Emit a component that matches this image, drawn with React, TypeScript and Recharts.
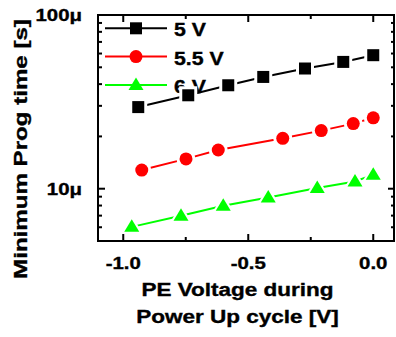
import React from 'react';
import { LineChart, Line, XAxis, YAxis } from 'recharts';

// PE voltage (V) and minimum programming time (µs)
const pe5V = [-0.94, -0.74, -0.58, -0.44, -0.273, -0.12, 0.0];
const time5V = [29.5, 34.5, 39.4, 44, 49.2, 53.7, 58.7];
const pe55V = [-0.926, -0.749, -0.62, -0.362, -0.208, -0.08, 0.0];
const time55V = [12.8, 14.85, 16.7, 19.5, 21.6, 23.7, 25.6];
const pe6V = [-0.966, -0.769, -0.6, -0.42, -0.224, -0.073, 0.0];
const time6V = [6.03, 6.98, 7.97, 8.9, 10.1, 11.0, 12.05];

const seriesNames = ['5 V', '5.5 V', '6 V'];
const seriesColors = ['#000000', '#ff0000', '#00ff00'];
const seriesShapes = ['square', 'circle', 'triangle'];

const xTicks = [-1, -0.75, -0.5, -0.25, 0];
const xMajor = [-1, -0.5, 0];
const yTicksMicro = [6, 7, 8, 9, 10, 20, 30, 40, 50, 60, 70, 80, 90, 100];
const yMajorMicro = [10, 100];

const X_DOMAIN: [number, number] = [-1.101, 0.087];
const Y_DOMAIN: [number, number] = [5e-6, 1e-4];

const toRows = (xs: number[], ys: number[]) =>
  xs.map((x, i) => ({ x, y: ys[i] * 1e-6 }));

const series = [
  toRows(pe5V, time5V),
  toRows(pe55V, time55V),
  toRows(pe6V, time6V),
];

const W = 396;
const H = 337;
const Y_AXIS_W = 98;
const X_AXIS_H = 96;
const MARGIN = { top: 15, right: 1, bottom: 0, left: 0 };
const PLOT_TOP = MARGIN.top;
const PLOT_LEFT = MARGIN.left + Y_AXIS_W;
const PLOT_RIGHT = W - MARGIN.right;
const PLOT_BOTTOM = H - MARGIN.bottom - X_AXIS_H;

const FONT = '"Liberation Sans", Arial, sans-serif';
const SX = 1.2;

function Txt({ x, y, size, anchor = 'middle', rotate = false, sx = SX, children }: any) {
  return (
    <text
      transform={`translate(${x},${y})${rotate ? ' rotate(-90)' : ''} scale(${sx},1)`}
      textAnchor={anchor}
      fontSize={size}
      fontWeight="bold"
      fontFamily={FONT}
      fill="#000"
      stroke="#000"
      strokeWidth={0.35}
    >
      {children}
    </text>
  );
}

function Marker({ shape, cx, cy, color, grow = 0 }: any) {
  if (shape === 'square') {
    const h = 6 + grow;
    return <rect x={cx - h} y={cy - h} width={h * 2} height={h * 2} fill={color} />;
  }
  if (shape === 'circle') {
    return <circle cx={cx} cy={cy} r={6.5 + grow} fill={color} />;
  }
  const w = 7.5 + grow * 1.4;
  const t = 7.5 + grow * 1.4;
  const b = 5 + grow;
  return (
    <polygon
      points={`${cx},${cy - t} ${cx - w},${cy + b} ${cx + w},${cy + b}`}
      fill={color}
    />
  );
}

const makeDot = (idx: number) => (props: any) => {
  const { cx, cy, key } = props;
  return (
    <g key={key}>
      <Marker shape={seriesShapes[idx]} cx={cx} cy={cy} color="#fff" grow={3} />
      <Marker shape={seriesShapes[idx]} cx={cx} cy={cy} color={seriesColors[idx]} />
    </g>
  );
};

const isMajorY = (v: number) => yMajorMicro.some((m) => Math.abs(v * 1e6 - m) < 1e-6);
const isMajorX = (v: number) => xMajor.some((m) => Math.abs(v - m) < 1e-9);

// bottom ticks, mirrored on the top frame edge
function BottomTick({ x, y, payload }: any) {
  const len = isMajorX(payload.value) ? 7 : 4;
  return (
    <g>
      <line x1={x} x2={x} y1={y} y2={y - len} stroke="#000" strokeWidth={2} />
      <line x1={x} x2={x} y1={PLOT_TOP} y2={PLOT_TOP + len} stroke="#000" strokeWidth={2} />
      {isMajorX(payload.value) && (
        <Txt x={x} y={y + 28} size={17}>
          {payload.value.toFixed(1)}
        </Txt>
      )}
    </g>
  );
}

// left ticks, mirrored on the right frame edge
function LeftTick({ x, y, payload }: any) {
  const major = isMajorY(payload.value);
  const len = major ? 7 : 4;
  return (
    <g>
      <line x1={x} x2={x + len} y1={y} y2={y} stroke="#000" strokeWidth={2} />
      <line x1={PLOT_RIGHT} x2={PLOT_RIGHT - len} y1={y} y2={y} stroke="#000" strokeWidth={2} />
      {major && (
        <Txt x={x - 16} y={y + 6} size={17} anchor="end">
          {`${Math.round(payload.value * 1e6)}μ`}
        </Txt>
      )}
    </g>
  );
}

function LegendRows() {
  return (
    <g>
      {seriesNames.map((name, i) => {
        const y = 28.3 + i * 28.3;
        return (
          <g key={name}>
            <line x1={105} x2={167} y1={y} y2={y} stroke={seriesColors[i]} strokeWidth={2} />
            <Marker shape={seriesShapes[i]} cx={136} cy={y} color={seriesColors[i]} />
            <Txt x={174} y={y + 8} size={19} anchor="start" sx={1.12}>
              {name}
            </Txt>
          </g>
        );
      })}
    </g>
  );
}

function XTitle({ viewBox }: any) {
  const cx = viewBox.x + viewBox.width / 2 - 9;
  return (
    <g>
      <Txt x={cx} y={296} size={18} sx={1.25}>PE Voltage during</Txt>
      <Txt x={cx} y={323} size={18} sx={1.25}>Power Up cycle [V]</Txt>
    </g>
  );
}

export default function App() {
  const axisLine = { stroke: '#000', strokeWidth: 2 };
  const yTicks = yTicksMicro.map((v) => v * 1e-6);
  return (
    <div style={{ position: 'absolute', left: 0, top: 0, background: '#fff' }}>
      <LineChart width={W} height={H} margin={MARGIN}>
        <rect
          x={PLOT_LEFT}
          y={PLOT_TOP}
          width={PLOT_RIGHT - PLOT_LEFT - 1}
          height={PLOT_BOTTOM - PLOT_TOP}
          fill="none"
          stroke="#000"
          strokeWidth={2}
        />
        <LegendRows />
        <XAxis
          type="number"
          dataKey="x"
          domain={X_DOMAIN}
          allowDataOverflow
          ticks={xTicks}
          interval={0}
          tick={<BottomTick />}
          tickLine={false}
          tickSize={0}
          tickMargin={0}
          axisLine={axisLine}
          height={X_AXIS_H}
          label={<XTitle />}
        />
        <YAxis
          type="number"
          scale="log"
          domain={Y_DOMAIN}
          allowDataOverflow
          ticks={yTicks}
          interval={0}
          tick={<LeftTick />}
          tickLine={false}
          tickSize={0}
          tickMargin={0}
          axisLine={axisLine}
          width={Y_AXIS_W}
        />
        {series.map((rows, i) => (
          <Line
            key={seriesNames[i]}
            name={seriesNames[i]}
            data={rows}
            dataKey="y"
            stroke={seriesColors[i]}
            strokeWidth={2}
            dot={makeDot(i)}
            activeDot={false}
            isAnimationActive={false}
          />
        ))}
        <Txt x={27} y={149} size={18} rotate sx={1.34}>
          Minimum Prog time [s]
        </Txt>
      </LineChart>
    </div>
  );
}
